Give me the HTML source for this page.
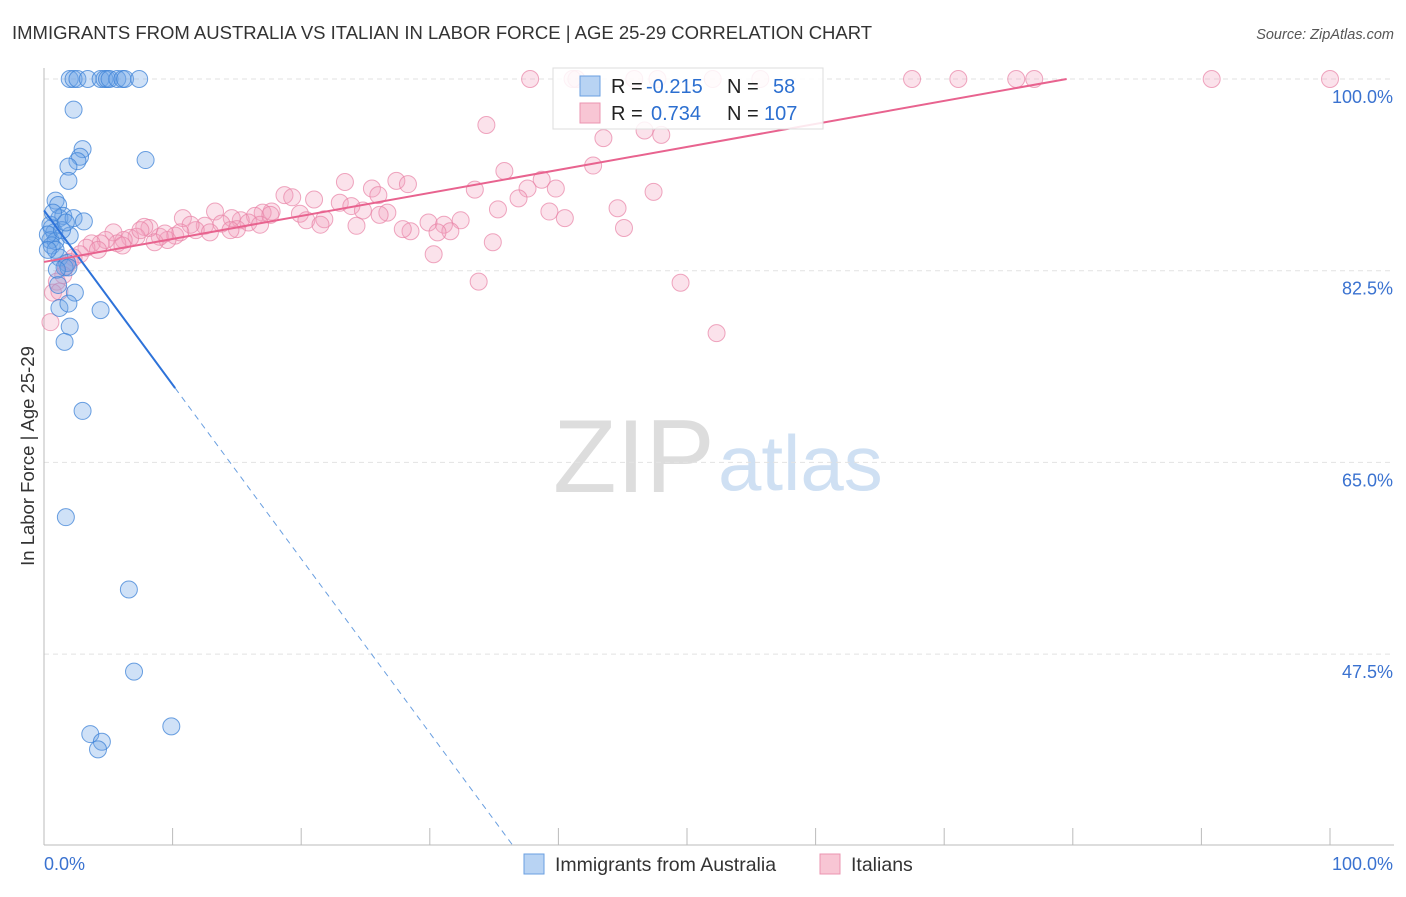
<!DOCTYPE html>
<html><head><meta charset="utf-8"><style>
body{margin:0;background:#fff;font-family:"Liberation Sans",sans-serif;}
svg text{font-family:"Liberation Sans",sans-serif;}
</style></head><body>
<svg id="chart" width="1406" height="892" xmlns="http://www.w3.org/2000/svg">
<text x="12" y="39" font-size="18.5" fill="#333">IMMIGRANTS FROM AUSTRALIA VS ITALIAN IN LABOR FORCE | AGE 25-29 CORRELATION CHART</text>
<text x="1394" y="39" font-size="14.5" fill="#555" font-style="italic" text-anchor="end">Source: ZipAtlas.com</text>
<text transform="translate(34,456) rotate(-90)" font-size="18.5" fill="#333" text-anchor="middle">In Labor Force | Age 25-29</text>
<g>
<text x="553" y="492" font-size="104" fill="#ddd" font-family="Liberation Serif,serif">ZIP</text>
<text x="718" y="490" font-size="78" fill="#cfe0f3">atlas</text>
</g>
<g id="grid"></g><g id="axes"></g><g id="pts"></g><g id="lines"></g>
<g>
<rect x="553" y="68" width="270" height="61" fill="#fff" fill-opacity="0.85" stroke="#ddd"/>
<rect x="580" y="76" width="20" height="20" fill="#b8d3f3" stroke="#6a9fe0"/>
<rect x="580" y="103" width="20" height="20" fill="#f8c6d4" stroke="#eb94b0"/>
<text y="93" font-size="20" fill="#222"><tspan x="611">R = </tspan><tspan x="646" fill="#2c6fd0">-0.215</tspan><tspan x="727">N = </tspan><tspan x="773" fill="#2c6fd0">58</tspan></text>
<text y="120" font-size="20" fill="#222"><tspan x="611">R = </tspan><tspan x="651" fill="#2c6fd0">0.734</tspan><tspan x="727">N = </tspan><tspan x="764" fill="#2c6fd0">107</tspan></text>
</g>
<g>
<rect x="524" y="854" width="20" height="20" fill="#b8d3f3" stroke="#6a9fe0"/>
<text x="555" y="871" font-size="19.5" fill="#333">Immigrants from Australia</text>
<rect x="820" y="854" width="20" height="20" fill="#f8c6d4" stroke="#eb94b0"/>
<text x="851" y="871" font-size="19.5" fill="#333">Italians</text>
</g>
</svg>
<script>
const yTicks=[100,82.5,65,47.5];
const yTickLabels=["100.0%","82.5%","65.0%","47.5%"];
const xTickVals=[0,10,20,30,40,50,60,70,80,90,100];
const xEndLabels=["0.0%","100.0%"];
const blueX=[2.0,2.3,2.6,3.4,4.4,4.7,4.9,5.1,5.7,6.1,6.3,7.4,2.3,3.0,2.8,2.6,1.9,1.9,7.9,0.9,1.1,1.2,1.5,2.3,3.1,0.6,0.8,0.5,0.9,0.6,2.0,0.9,1.2,1.8,1.6,1.9,1.1,2.4,1.2,1.9,4.4,2.0,1.6,3.0,1.7,6.6,7.0,9.9,3.6,4.5,4.2,0.5,0.3,0.7,1.4,1.7,1.0,0.3];
const blueY=[100,100,100,100,100,100,100,100,100,100,100,100,97.2,93.6,92.9,92.5,92.0,90.7,92.6,88.9,88.5,87.3,87.5,87.3,87.0,86.4,86.0,85.3,85.2,84.8,85.7,84.4,83.7,83.2,82.8,82.8,81.2,80.5,79.1,79.5,78.9,77.4,76.0,69.7,60.0,53.4,45.9,40.9,40.2,39.5,38.8,86.7,85.8,87.8,86.2,86.9,82.6,84.4];
const pinkX=[37.8,41.1,41.4,45.9,47.7,52.0,55.7,67.5,71.1,75.6,77.0,90.8,100,34.4,43.5,46.7,48.0,35.8,42.7,47.4,44.6,45.1,38.7,39.8,37.6,36.9,33.5,35.3,39.3,40.5,32.4,31.1,29.9,31.6,30.6,28.5,34.9,30.3,33.8,49.5,52.3,23.4,25.5,26.0,27.4,28.3,26.7,27.9,23.0,23.9,24.8,24.3,21.0,21.8,19.9,20.4,18.7,19.3,17.7,17.0,16.4,15.3,15.9,14.6,15.0,13.3,13.8,12.5,11.8,10.8,11.4,10.2,9.6,9.0,8.2,7.8,7.2,6.7,6.2,5.4,5.7,4.8,4.4,3.7,3.3,2.8,2.3,2.0,1.7,1.5,1.0,0.7,0.5,1.2,4.2,6.1,7.5,8.6,14.5,17.6,21.5,26.1,16.8,12.9,10.6,9.4];
const pinkY=[100,100,100,100,100,100,100,100,100,100,100,100,100,95.8,94.6,95.3,94.9,91.6,92.1,89.7,88.2,86.4,90.8,90.0,90.0,89.1,89.9,88.1,87.9,87.3,87.1,86.7,86.9,86.1,86.0,86.1,85.1,84.0,81.5,81.4,76.8,90.6,90.0,89.4,90.7,90.4,87.8,86.3,88.7,88.4,88.0,86.6,89.0,87.2,87.7,87.1,89.4,89.2,87.9,87.8,87.5,87.1,86.9,87.3,86.3,87.9,86.8,86.6,86.2,87.3,86.7,85.7,85.3,85.6,86.4,86.5,85.6,85.5,85.3,86.0,85.0,85.3,85.0,85.0,84.6,84.0,83.7,83.3,82.9,82.1,81.5,80.5,77.8,80.6,84.4,84.8,86.2,85.1,86.2,87.6,86.7,87.6,86.7,86.0,86.0,85.9];
const blueTrend=[88.0,-1.59,10.2]; // intercept, slope, solid end x
const pinkTrend=[83.3,0.21];

const X0=44,X1=1330,YTOP=79,PXPER=191.7/17.5,YBOT=845;
const xs=v=>X0+(X1-X0)*v/100;
const ys=v=>YTOP+(100-v)*PXPER;
const NS="http://www.w3.org/2000/svg";
function mk(tag,attrs,parent){const e=document.createElementNS(NS,tag);for(const k in attrs)e.setAttribute(k,attrs[k]);parent.appendChild(e);return e;}
const grid=document.getElementById('grid'),axes=document.getElementById('axes'),pts=document.getElementById('pts'),lines=document.getElementById('lines');
yTicks.forEach((t,i)=>{
 const l=mk('line',{x1:X0,x2:1394,y1:ys(t),y2:ys(t),stroke:'#e2e2e2','stroke-dasharray':'5,4'},grid);
 
 
 const tx=mk('text',{x:1393,y:ys(t)+24,'font-size':18,fill:'#3a72d0','text-anchor':'end'},axes);
 tx.textContent=yTickLabels[i];
 
 
});
const ya=mk('line',{x1:X0,x2:X0,y1:68,y2:YBOT,stroke:'#bbb'},axes);


const xa=mk('line',{x1:X0,x2:1394,y1:YBOT,y2:YBOT,stroke:'#bbb'},axes);


xTickVals.forEach(v=>{
 const t=mk('line',{x1:xs(v),x2:xs(v),y1:828,y2:YBOT,stroke:'#bbb'},axes);
 
 
});
const xl0=mk('text',{x:44,y:870,'font-size':18,fill:'#3a72d0'},axes);xl0.textContent=xEndLabels[0];


const xl1=mk('text',{x:1393,y:870,'font-size':18,fill:'#3a72d0','text-anchor':'end'},axes);xl1.textContent=xEndLabels[1];


pinkX.forEach((x,i)=>{
 const c=mk('circle',{cx:xs(x),cy:ys(pinkY[i]),r:8.5,fill:'rgba(242,160,188,0.3)',stroke:'rgba(232,130,165,0.7)','stroke-width':1},pts);
 
 
});
blueX.forEach((x,i)=>{
 const c=mk('circle',{cx:xs(x),cy:ys(blueY[i]),r:8.5,fill:'rgba(110,165,232,0.33)',stroke:'rgba(60,130,215,0.75)','stroke-width':1},pts);
 
 
});
const bEnd=blueTrend[2];
const b1=mk('line',{x1:xs(0),y1:ys(blueTrend[0]),x2:xs(bEnd),y2:ys(blueTrend[0]+blueTrend[1]*bEnd),stroke:'#2d72d9','stroke-width':2},lines);


const yMin=100-(YBOT-YTOP)/PXPER;
const bx2=(yMin-blueTrend[0])/blueTrend[1];
const b2=mk('line',{x1:xs(bEnd),y1:ys(blueTrend[0]+blueTrend[1]*bEnd),x2:xs(bx2),y2:ys(yMin),stroke:'#6a9fe0','stroke-width':1,'stroke-dasharray':'6,5'},lines);


const px2=(100-pinkTrend[0])/pinkTrend[1];
const p1=mk('line',{x1:xs(0),y1:ys(pinkTrend[0]),x2:xs(px2),y2:ys(100),stroke:'#e8638f','stroke-width':2},lines);


</script>
</body></html>
